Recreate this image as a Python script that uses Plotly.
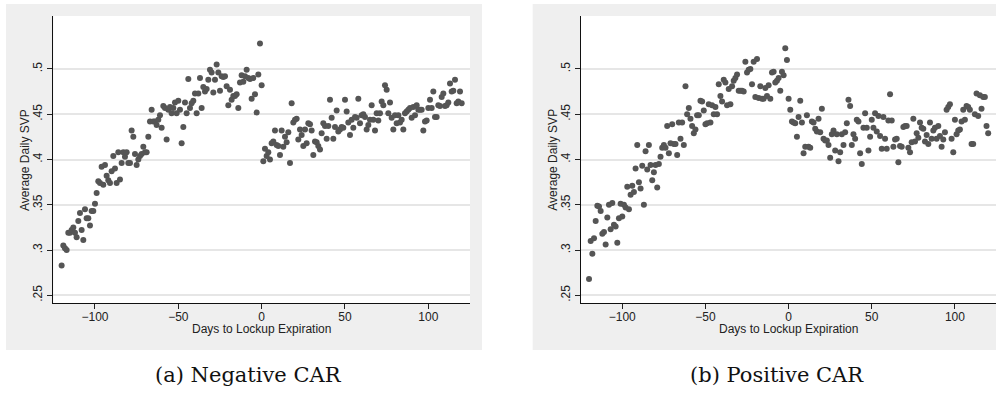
import plotly.graph_objects as go

# Average daily SVP around lockup expiration, split by sign of CAR
neg_pre = [
    0.283, 0.305, 0.302, 0.300, 0.319, 0.319, 0.322, 0.325, 0.319, 0.314,
    0.332, 0.341, 0.322, 0.311, 0.345, 0.335, 0.335, 0.327, 0.343, 0.343,
    0.351, 0.363, 0.376, 0.374, 0.392, 0.372, 0.394, 0.382, 0.377, 0.374,
    0.387, 0.404, 0.390, 0.374, 0.408, 0.378, 0.396, 0.408, 0.403, 0.408,
    0.396, 0.396, 0.432, 0.425, 0.406, 0.394, 0.400, 0.404, 0.406, 0.414,
    0.408, 0.408, 0.425, 0.442, 0.455, 0.442, 0.442, 0.438, 0.444, 0.449,
    0.435, 0.459, 0.457, 0.422, 0.455, 0.458, 0.451, 0.457, 0.463, 0.451,
    0.465, 0.455, 0.418, 0.436, 0.463, 0.451, 0.489, 0.457, 0.462, 0.465,
    0.473, 0.451, 0.473, 0.490, 0.457, 0.480, 0.475, 0.478, 0.488, 0.499,
    0.496, 0.474, 0.488, 0.505, 0.496, 0.476, 0.492, 0.491, 0.492, 0.481,
    0.460, 0.477, 0.466, 0.470, 0.470, 0.472, 0.457, 0.485, 0.493, 0.486,
    0.492, 0.499, 0.490, 0.489, 0.467, 0.490, 0.472, 0.452, 0.494, 0.528,
    0.482,
]
neg_post = [
    0.398, 0.412, 0.404, 0.408, 0.400, 0.418, 0.420, 0.432, 0.416, 0.415,
    0.405, 0.432, 0.414, 0.425, 0.419, 0.430, 0.396, 0.462, 0.441, 0.444,
    0.445, 0.422, 0.433, 0.427, 0.415, 0.433, 0.418, 0.440, 0.439, 0.432,
    0.405, 0.420, 0.419, 0.415, 0.411, 0.429, 0.440, 0.437, 0.423, 0.437,
    0.466, 0.446, 0.423, 0.436, 0.454, 0.431, 0.433, 0.436, 0.435, 0.466,
    0.453, 0.441, 0.427, 0.444, 0.435, 0.447, 0.446, 0.467, 0.440, 0.449,
    0.450, 0.447, 0.433, 0.438, 0.444, 0.460, 0.444, 0.432, 0.451, 0.443,
    0.451, 0.464, 0.460, 0.482, 0.477, 0.451, 0.463, 0.446, 0.433, 0.449,
    0.440, 0.449, 0.441, 0.444, 0.433, 0.451, 0.453, 0.455, 0.457, 0.446,
    0.458, 0.449, 0.460, 0.455, 0.455, 0.455, 0.432, 0.442, 0.443, 0.457,
    0.466, 0.457, 0.475, 0.447, 0.447, 0.460, 0.459, 0.469, 0.473, 0.459,
    0.460, 0.463, 0.484, 0.475, 0.476, 0.488, 0.462, 0.464, 0.475, 0.462,
]
pos_pre = [
    0.268, 0.310, 0.296, 0.313, 0.332, 0.349, 0.348, 0.343, 0.318, 0.320,
    0.306, 0.336, 0.350, 0.323, 0.352, 0.328, 0.326, 0.308, 0.335, 0.351,
    0.337, 0.350, 0.347, 0.370, 0.345, 0.361, 0.371, 0.364, 0.390, 0.416,
    0.375, 0.368, 0.393, 0.350, 0.409, 0.389, 0.416, 0.394, 0.377, 0.386,
    0.394, 0.369, 0.395, 0.403, 0.413, 0.416, 0.413, 0.437, 0.407, 0.418,
    0.439, 0.417, 0.417, 0.405, 0.441, 0.423, 0.441, 0.416, 0.481, 0.450,
    0.457, 0.445, 0.437, 0.429, 0.433, 0.449, 0.449, 0.465, 0.464, 0.454,
    0.439, 0.440, 0.461, 0.441, 0.460, 0.450, 0.458, 0.450, 0.483, 0.470,
    0.464, 0.488, 0.485, 0.460, 0.478, 0.461, 0.481, 0.487, 0.490, 0.494,
    0.476, 0.476, 0.476, 0.475, 0.508, 0.496, 0.499, 0.500, 0.483, 0.508,
    0.469, 0.511, 0.468, 0.481, 0.467, 0.467, 0.479, 0.470, 0.482, 0.467,
    0.496, 0.497, 0.485, 0.487, 0.490, 0.476, 0.497, 0.493, 0.523, 0.510,
]
pos_post = [
    0.467, 0.455, 0.442, 0.441, 0.440, 0.425, 0.447, 0.465, 0.441, 0.407,
    0.414, 0.449, 0.414, 0.413, 0.442, 0.441, 0.434, 0.431, 0.445, 0.430,
    0.456, 0.423, 0.421, 0.421, 0.416, 0.402, 0.428, 0.432, 0.410, 0.428,
    0.398, 0.408, 0.428, 0.416, 0.430, 0.440, 0.466, 0.459, 0.416, 0.428,
    0.423, 0.444, 0.442, 0.407, 0.395, 0.435, 0.451, 0.435, 0.410, 0.425,
    0.444, 0.435, 0.451, 0.431, 0.448, 0.426, 0.412, 0.447, 0.423, 0.412,
    0.443, 0.472, 0.443, 0.414, 0.422, 0.423, 0.397, 0.415, 0.414, 0.436,
    0.437, 0.437, 0.413, 0.408, 0.419, 0.445, 0.420, 0.429, 0.424, 0.441,
    0.435, 0.434, 0.420, 0.427, 0.417, 0.441, 0.423, 0.432, 0.435, 0.423,
    0.437, 0.426, 0.414, 0.422, 0.430, 0.455, 0.458, 0.461, 0.423, 0.408,
    0.444, 0.428, 0.432, 0.433, 0.442, 0.455, 0.444, 0.459, 0.458, 0.455,
    0.417, 0.417, 0.450, 0.473, 0.448, 0.471, 0.456, 0.469, 0.469, 0.437,
    0.429,
]

neg_days = list(range(-120, 121))
pos_days = list(range(-120, 121))
neg_vals = neg_pre + neg_post
pos_vals = pos_pre + pos_post

x_ticks = [-100, -50, 0, 50, 100]
y_ticks = [0.25, 0.30, 0.35, 0.40, 0.45, 0.50]
y_tick_text = [".25", ".3", ".35", ".4", ".45", ".5"]

x_title = "Days to Lockup Expiration"
y_title = "Average Daily SVP"
captions = ["(a) Negative CAR", "(b) Positive CAR"]

W, H = 996, 396
SANS = "Liberation Sans, Arial, sans-serif"
SERIF = "DejaVu Serif, serif"
PANEL_BG = "#efefef"
GRID = "#e6e6e6"
DOT = "#555555"


def px(x):
    return x / W


def py(y):
    return (H - y) / H


fig = go.Figure()
fig.add_trace(go.Scatter(x=neg_days, y=neg_vals, mode="markers",
                         marker=dict(size=6, color=DOT),
                         xaxis="x", yaxis="y", showlegend=False))
fig.add_trace(go.Scatter(x=pos_days, y=pos_vals, mode="markers",
                         marker=dict(size=6, color=DOT),
                         xaxis="x2", yaxis="y2", showlegend=False))

# plot areas in pixel terms
left_area = (53.3, 470.0)
right_area = (580.7, 996.0)
top_px, bottom_px = 16.0, 303.0
y_range = [0.2415, 0.5585]

xcommon = dict(tickvals=x_ticks, ticks="outside", ticklen=5, tickwidth=1,
               tickcolor="#222", showline=True, linecolor="#111", linewidth=1.3,
               showgrid=False, zeroline=False, ticklabelstandoff=-3,
               tickfont=dict(family=SANS, size=12, color="#222"))
ycommon = dict(tickvals=y_ticks, ticktext=y_tick_text, range=y_range,
               ticks="outside", ticklen=5, tickwidth=1, tickcolor="#222",
               showline=True, linecolor="#111", linewidth=1.3,
               showgrid=True, gridcolor=GRID, gridwidth=1.6, zeroline=False,
               tickangle=-90,
               tickfont=dict(family=SANS, size=12, color="#222"),
               domain=[py(bottom_px), py(top_px)])

fig.update_layout(
    width=W, height=H,
    margin=dict(l=0, r=0, t=0, b=0),
    paper_bgcolor="white",
    plot_bgcolor="rgba(0,0,0,0)",
    xaxis=dict(xcommon, domain=[px(left_area[0]), px(left_area[1])],
               range=[-125, 125], anchor="y"),
    yaxis=dict(ycommon, anchor="x"),
    xaxis2=dict(xcommon, domain=[px(right_area[0]), 1.0],
                range=[-125, 124.7], anchor="y2"),
    yaxis2=dict(ycommon, anchor="x2"),
)

# grey outer panels and white plotting regions
shapes = []
for x0, x1 in [(6, 482), (532.7, 1010)]:
    shapes.append(dict(type="rect", xref="paper", yref="paper",
                       x0=px(x0), x1=px(x1), y0=py(350), y1=py(4),
                       fillcolor=PANEL_BG, line=dict(width=0), layer="below"))
for x0, x1 in [left_area, (right_area[0], 1000)]:
    shapes.append(dict(type="rect", xref="paper", yref="paper",
                       x0=px(x0), x1=px(x1), y0=py(bottom_px), y1=py(top_px),
                       fillcolor="white", line=dict(width=0), layer="below"))
fig.update_layout(shapes=shapes)

annotations = []
for cx, ytx in [(261.5, 25), (788.5, 552.7)]:
    annotations.append(dict(text=x_title, x=px(cx), y=py(329), xref="paper",
                            yref="paper", showarrow=False, xanchor="center",
                            yanchor="middle",
                            font=dict(family=SANS, size=12, color="#222")))
    annotations.append(dict(text=y_title, x=px(ytx), y=py(160), xref="paper",
                            yref="paper", showarrow=False, textangle=-90,
                            xanchor="center", yanchor="middle",
                            font=dict(family=SANS, size=12, color="#222")))
for cx, cap in zip([248, 776.7], captions):
    annotations.append(dict(text=cap, x=px(cx), y=py(375), xref="paper",
                            yref="paper", showarrow=False, xanchor="center",
                            yanchor="middle",
                            font=dict(family=SERIF, size=21, color="#111")))
fig.update_layout(annotations=annotations)

fig.write_html("out.html")
